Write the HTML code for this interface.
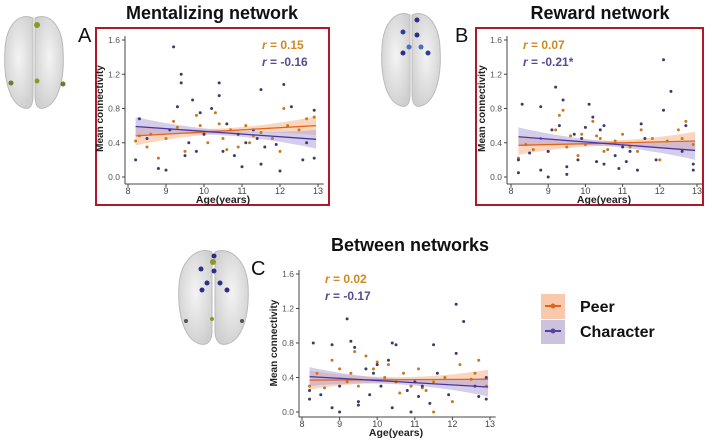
<!DOCTYPE html>
<html><head><meta charset="utf-8"><style>
body{margin:0;background:#fff;width:712px;height:443px;overflow:hidden;font-family:"Liberation Sans",sans-serif}
svg{display:block}
</style></head><body>
<svg id="fig" width="712" height="443" viewBox="0 0 712 443" xmlns="http://www.w3.org/2000/svg">
<defs>
<radialGradient id="brainG" cx="50%" cy="45%" r="60%"><stop offset="0" stop-color="#f4f4f4"/><stop offset="1" stop-color="#cfcfcf"/></radialGradient>
</defs>
<g>
<path d="M33,18 C20,12 6,24 5,50 C3,80 10,104 24,108 C31,110 33,104 33,95 Z" fill="url(#brainG)" stroke="#bbb"/>
<path d="M35,18 C48,12 62,24 63,50 C65,80 58,104 44,108 C37,110 35,104 35,95 Z" fill="url(#brainG)" stroke="#bbb"/>
<circle cx="37" cy="25" r="3" fill="#8a9a20"/><circle cx="37" cy="81" r="2.5" fill="#8a9a20"/>
<circle cx="11" cy="83" r="2.5" fill="#6a7a30"/><circle cx="63" cy="84" r="2.5" fill="#6a7a30"/>
</g>
<g>
<path d="M410,15 C397,9 383,22 382,48 C380,78 387,102 401,106 C408,108 410,102 410,93 Z" fill="url(#brainG)" stroke="#bbb"/>
<path d="M412,15 C425,9 439,22 440,48 C442,78 435,102 421,106 C414,108 412,102 412,93 Z" fill="url(#brainG)" stroke="#bbb"/>
<circle cx="417" cy="20" r="2.5" fill="#2a2f8a"/><circle cx="403" cy="32" r="2.5" fill="#2a3f9a"/>
<circle cx="417" cy="35" r="2.5" fill="#2a2f8a"/><circle cx="409" cy="47" r="2.5" fill="#4a6fca"/>
<circle cx="421" cy="47" r="2.5" fill="#4a6fca"/><circle cx="403" cy="53" r="2.5" fill="#2a2f8a"/><circle cx="428" cy="53" r="2.5" fill="#2a3f9a"/>
</g>
<g>
<path d="M212,252 C198,246 181,259 179,285 C177,316 185,340 200,344 C208,346 212,340 212,331 Z" fill="url(#brainG)" stroke="#bbb"/>
<path d="M215,252 C229,246 246,259 248,285 C250,316 242,340 227,344 C219,346 215,340 215,331 Z" fill="url(#brainG)" stroke="#bbb"/>
<circle cx="214" cy="256" r="2.5" fill="#2a2f8a"/><circle cx="213" cy="262" r="3" fill="#8a9a20"/>
<circle cx="201" cy="269" r="2.5" fill="#2a2f8a"/><circle cx="214" cy="271" r="2.5" fill="#2a2f8a"/>
<circle cx="207" cy="283" r="2.5" fill="#2a2f8a"/><circle cx="220" cy="283" r="2.5" fill="#2a2f8a"/>
<circle cx="202" cy="290" r="2.5" fill="#2a2f8a"/><circle cx="227" cy="290" r="2.5" fill="#2a2f8a"/>
<circle cx="212" cy="319" r="2" fill="#8a9a20"/><circle cx="186" cy="321" r="2" fill="#555"/><circle cx="242" cy="321" r="2" fill="#555"/>
</g>
<text x="212" y="19" text-anchor="middle" font-size="18" font-weight="bold" fill="#111">Mentalizing network</text>
<text x="600" y="19" text-anchor="middle" font-size="18" font-weight="bold" fill="#111">Reward network</text>
<text x="410" y="251" text-anchor="middle" font-size="18" font-weight="bold" fill="#111">Between networks</text>
<text x="78" y="42" font-size="20" fill="#111">A</text>
<text x="455" y="42" font-size="20" fill="#111">B</text>
<text x="251" y="275" font-size="20" fill="#111">C</text>
<rect x="96" y="28" width="233" height="177" fill="none" stroke="#b0182a" stroke-width="2"/>
<rect x="476" y="28" width="227" height="177" fill="none" stroke="#b0182a" stroke-width="2"/>
<g>
<rect x="541" y="294" width="24" height="25" fill="#f8c9ad"/>
<line x1="545" y1="306" x2="561" y2="306" stroke="#e0641a" stroke-width="2"/><circle cx="553" cy="306" r="2.5" fill="#e0641a"/>
<rect x="541" y="320" width="24" height="24" fill="#cbc2de"/>
<line x1="545" y1="331" x2="561" y2="331" stroke="#5a3fa0" stroke-width="2"/><circle cx="553" cy="331" r="2.5" fill="#5a3fa0"/>
<text x="580" y="312" font-size="16" font-weight="bold" fill="#111">Peer</text>
<text x="580" y="337" font-size="16" font-weight="bold" fill="#111">Character</text>
</g>
<g id="plots"></g>
</svg>
<script>
const yTicks=[0.0,0.4,0.8,1.2,1.6];
const xTicks=[8,9,10,11,12,13];
const peerAgeA=[8.2,8.3,8.5,8.8,9.0,9.2,9.3,9.5,9.8,10.0,10.1,10.3,10.4,10.5,10.7,10.9,11.1,11.3,11.5,11.8,12.1,12.2,12.5,12.7,12.9,9.9,10.6,11.2,8.6,12.0];
const peerValA=[0.42,0.48,0.35,0.22,0.45,0.65,0.58,0.3,0.72,0.5,0.4,0.75,0.62,0.45,0.55,0.35,0.6,0.48,0.52,0.45,0.8,0.6,0.55,0.68,0.7,0.6,0.32,0.4,0.5,0.3];
const charAgeA=[8.2,8.3,8.5,8.8,9.0,9.1,9.2,9.3,9.4,9.4,9.5,9.6,9.8,9.9,10.0,10.2,10.4,10.4,10.5,10.6,10.8,11.0,11.1,11.3,11.5,11.5,11.6,11.9,12.0,12.1,12.3,12.6,12.7,12.9,12.9,9.7,10.9,11.4];
const charValA=[0.2,0.68,0.45,0.1,0.08,0.55,1.52,0.82,1.2,1.1,0.25,0.4,0.3,0.75,0.5,0.8,1.1,0.95,0.3,0.62,0.25,0.12,0.4,0.55,1.02,0.15,0.35,0.38,0.07,1.08,0.82,0.2,0.4,0.78,0.22,0.9,0.5,0.45];
const peerAgeB=[8.2,8.4,8.6,8.8,9.0,9.2,9.3,9.4,9.5,9.8,9.9,10.0,10.2,10.3,10.4,10.5,10.8,11.0,11.2,11.4,11.5,11.8,12.0,12.2,12.5,12.7,12.9,9.6,10.6,12.6];
const peerValB=[0.22,0.38,0.32,0.45,0.3,0.55,0.72,0.78,0.35,0.25,0.5,0.38,0.65,0.48,0.45,0.3,0.42,0.5,0.35,0.3,0.55,0.45,0.2,0.42,0.55,0.65,0.38,0.48,0.32,0.45];
const charAgeB=[8.2,8.2,8.3,8.5,8.8,8.8,9.0,9.0,9.1,9.2,9.3,9.4,9.5,9.5,9.8,9.9,10.0,10.1,10.2,10.3,10.4,10.5,10.5,10.8,10.9,11.1,11.2,11.4,11.5,11.6,11.9,12.1,12.1,12.3,12.6,12.7,12.9,12.9,9.7,11.0];
const charValB=[0.05,0.2,0.85,0.28,0.82,0.08,0.0,0.3,0.55,1.05,0.6,0.9,0.12,0.03,0.2,0.45,0.58,0.85,0.7,0.18,0.55,0.6,0.15,0.25,0.1,0.18,0.3,0.08,0.62,0.45,0.2,1.37,0.78,1.0,0.3,0.6,0.08,0.15,0.5,0.35];
const peerAgeC=[8.2,8.4,8.6,8.8,9.0,9.2,9.3,9.5,9.7,9.9,10.0,10.2,10.3,10.5,10.7,10.9,11.1,11.3,11.5,11.5,11.8,12.0,12.2,12.5,12.7,12.9,9.4,10.6,11.2,12.6];
const peerValC=[0.3,0.45,0.28,0.6,0.5,0.35,0.45,0.3,0.65,0.5,0.58,0.4,0.55,0.35,0.45,0.3,0.5,0.25,0.0,0.35,0.4,0.12,0.55,0.38,0.6,0.3,0.7,0.22,0.28,0.45];
const charAgeC=[8.2,8.2,8.3,8.5,8.8,8.8,9.0,9.0,9.2,9.3,9.4,9.5,9.5,9.8,9.9,10.0,10.1,10.3,10.4,10.4,10.5,10.8,10.9,11.1,11.2,11.4,11.5,11.6,11.9,12.1,12.1,12.3,12.6,12.7,12.9,12.9,9.7,11.0];
const charValC=[0.15,0.25,0.8,0.2,0.78,0.05,0.0,0.3,1.08,0.82,0.75,0.12,0.08,0.2,0.45,0.55,0.3,0.6,0.8,0.05,0.78,0.25,0.0,0.18,0.3,0.1,0.78,0.45,0.2,1.25,0.68,1.05,0.3,0.18,0.4,0.15,0.5,0.35];
const fitPeer={A:[0.48,0.60],B:[0.37,0.42],C:[0.37,0.38]};
const fitChar={A:[0.59,0.44],B:[0.47,0.31],C:[0.41,0.29]};
const rLabels={A:["0.15","-0.16"],B:["0.07","-0.21*"],C:["0.02","-0.17"]};

const NS="http://www.w3.org/2000/svg";
const root=document.getElementById('plots');
function mk(t,a,p){const e=document.createElementNS(NS,t);for(const k in a)e.setAttribute(k,a[k]);(p||root).appendChild(e);return e;}
const panels=[
 {id:'A',ax:125,x8:128,x13:318,y0:177,y16:40,xb:184,pa:peerAgeA,pv:peerValA,ca:charAgeA,cv:charValA,rx:262},
 {id:'B',ax:507,x8:511,x13:697,y0:177,y16:40,xb:184,pa:peerAgeB,pv:peerValB,ca:charAgeB,cv:charValB,rx:523},
 {id:'C',ax:299,x8:302,x13:490,y0:412,y16:274,xb:417,pa:peerAgeC,pv:peerValC,ca:charAgeC,cv:charValC,rx:325}
];
panels.forEach(P=>{
 const g=mk('g',{});
 
 
 const X=v=>P.x8+(v-8)*(P.x13-P.x8)/5, Y=v=>P.y0-(v)*(P.y0-P.y16)/1.6;
 const ya=mk('line',{x1:P.ax,y1:P.y16-4,x2:P.ax,y2:P.xb,stroke:'#444','stroke-width':1},g);
 
 
 const xa=mk('line',{x1:P.ax,y1:P.xb,x2:X(13.15),y2:P.xb,stroke:'#444','stroke-width':1},g);
 
 
 yTicks.forEach(t=>{mk('line',{x1:P.ax-3,y1:Y(t),x2:P.ax,y2:Y(t),stroke:'#444'},g);
  const tx=mk('text',{x:P.ax-5,y:Y(t)+3,'font-size':8.5,'text-anchor':'end',fill:'#555'},g);tx.textContent=t.toFixed(1);
  
  });
 xTicks.forEach(t=>{mk('line',{x1:X(t),y1:P.xb,x2:X(t),y2:P.xb+3,stroke:'#444'},g);
  const tx=mk('text',{x:X(t),y:P.xb+10,'font-size':9,'text-anchor':'middle',fill:'#444'},g);tx.textContent=t;
  
  });
 const xt=mk('text',{x:(P.x8+P.x13)/2,y:P.xb+19,'font-size':10.5,'font-weight':'bold','text-anchor':'middle',fill:'#222'},g);xt.textContent='Age(years)';
 
 
 const yt=mk('text',{x:0,y:0,'font-size':10,'font-weight':'bold','text-anchor':'middle',fill:'#222',transform:`translate(${P.ax-22},${(P.y0+P.y16)/2}) rotate(-90)`},g);yt.textContent='Mean connectivity';
 
 
 [[fitPeer[P.id],'#f6b48a','peer'],[fitChar[P.id],'#b2a6d8','character']].forEach(([f,bc,nm])=>{
  const a=8.2,b=12.95,m=(a+b)/2,yv=t=>f[0]+(f[1]-f[0])*(t-a)/(b-a),w=t=>0.03+0.08*Math.pow((t-m)/(b-a)*2,2);
  const ts=[];for(let i=0;i<=20;i++)ts.push(a+(b-a)*i/20);
  const d='M'+ts.map(t=>X(t)+','+Y(yv(t)+w(t))).join('L')+'L'+ts.slice().reverse().map(t=>X(t)+','+Y(yv(t)-w(t))).join('L')+'Z';
  const band=mk('path',{d:d,fill:bc,opacity:0.55},g);
  
  
 });
 [[P.pa,P.pv,'#c8781e','peer'],[P.ca,P.cv,'#3c3a6e','character']].forEach(([xs,vs,c,nm])=>{
  xs.forEach((x,i)=>{const p=mk('circle',{cx:X(x),cy:Y(vs[i]),r:1.5,fill:c},g);
   
   });
 });
 [[fitPeer[P.id],'#e0641a','peer'],[fitChar[P.id],'#4a35a0','character']].forEach(([f,lc,nm])=>{
  const l=mk('line',{x1:X(8.2),y1:Y(f[0]),x2:X(12.95),y2:Y(f[1]),stroke:lc,'stroke-width':1.3},g);
  
  
 });
 const r1=mk('text',{x:P.rx,y:P.y16+9,'font-size':12,'font-weight':'bold',fill:'#d0891c'},g);
 r1.innerHTML='<tspan font-style="italic">r</tspan> = '+rLabels[P.id][0];
 
 
 const r2=mk('text',{x:P.rx,y:P.y16+26,'font-size':12,'font-weight':'bold',fill:'#574a8e'},g);
 r2.innerHTML='<tspan font-style="italic">r</tspan> = '+rLabels[P.id][1];
 
 
});
</script>
</body></html>
